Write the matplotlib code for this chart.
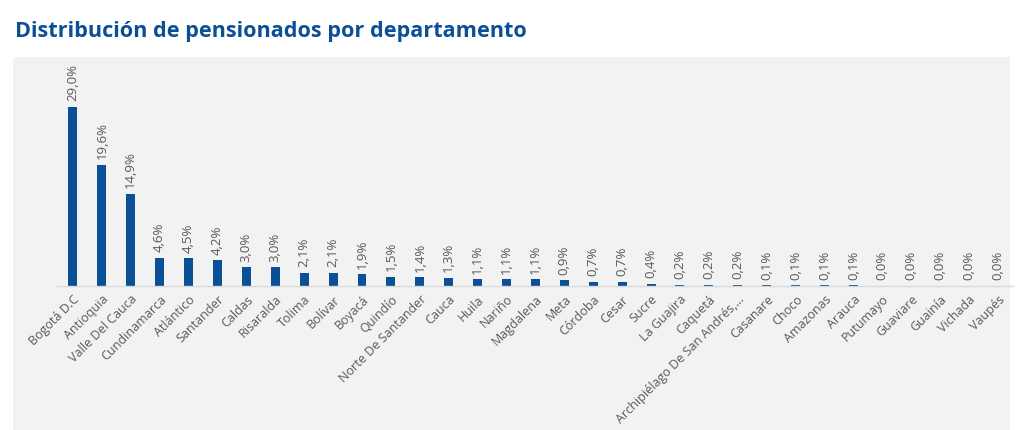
import matplotlib.pyplot as plt

# Data
departamentos = [
    "Bogotá D.C", "Antioquia", "Valle Del Cauca", "Cundinamarca", "Atlántico",
    "Santander", "Caldas", "Risaralda", "Tolima", "Bolívar", "Boyacá", "Quindío",
    "Norte De Santander", "Cauca", "Huila", "Nariño", "Magdalena", "Meta",
    "Córdoba", "Cesar", "Sucre", "La Guajira", "Caquetá",
    "Archipiélago De San Andrés,...", "Casanare", "Choco", "Amazonas", "Arauca",
    "Putumayo", "Guaviare", "Guainía", "Vichada", "Vaupés",
]
porcentajes = [
    29.0, 19.6, 14.9, 4.6, 4.5, 4.2, 3.0, 3.0, 2.1, 2.1, 1.9, 1.5, 1.4, 1.3,
    1.1, 1.1, 1.1, 0.9, 0.7, 0.7, 0.4, 0.2, 0.2, 0.2, 0.1, 0.1, 0.1, 0.1,
    0.0, 0.0, 0.0, 0.0, 0.0,
]

plt.rcParams['font.family'] = ['Open Sans', 'DejaVu Sans']
blue = "#0b4f96"
gray_txt = "#595959"

fig = plt.figure(figsize=(10.24, 4.3), dpi=100)
fig.patch.set_facecolor("white")

# gray panel behind the chart
bg = fig.add_axes([13 / 1024, 0, (1010 - 13) / 1024, (430 - 57) / 430], zorder=-1)
bg.set_facecolor("#f2f2f2")
bg.set_xticks([])
bg.set_yticks([])
for s in bg.spines.values():
    s.set_visible(False)

fig.text(15 / 1024, 1 - 32 / 430, "Distribución de pensionados por departamento",
         color=blue, fontsize=15.6, fontweight="bold", va="center", ha="left")

ax = fig.add_axes([57 / 1024, 144 / 430, (1013 - 57) / 1024, (286 - 60) / 430], zorder=1)
ax.set_facecolor("none")

x = list(range(len(departamentos)))
bars = ax.bar(x, porcentajes, width=0.31, color=blue, zorder=2)

for xi, v in zip(x, porcentajes):
    ax.annotate(f"{v:.1f}%".replace(".", ","), (xi, v), xytext=(0, 4),
                textcoords="offset points", rotation=90, ha="center", va="bottom",
                fontsize=9.5, color=gray_txt)

ax.set_xlim(-0.55, len(departamentos) - 0.48)
ax.set_ylim(0, 36.6)
ax.set_yticks([])
for s in ["top", "right", "left"]:
    ax.spines[s].set_visible(False)
ax.spines["bottom"].set_color("#d9d9d9")
ax.spines["bottom"].set_linewidth(1)

ax.set_xticks(x)
ax.set_xticklabels(departamentos, rotation=45, ha="right", va="top",
                   rotation_mode="anchor", fontsize=9, color=gray_txt)
ax.tick_params(axis="x", length=0, pad=5)

fig.savefig("out.png", dpi=100)
